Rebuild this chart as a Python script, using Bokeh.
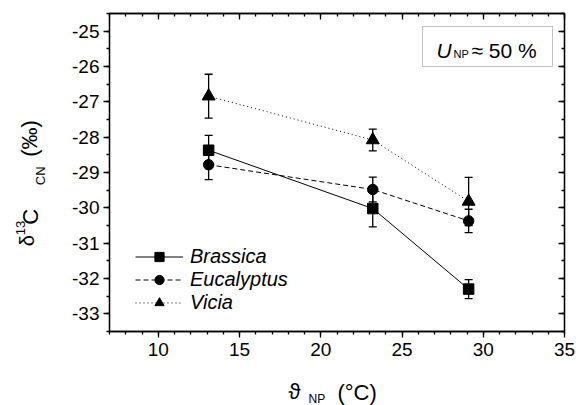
import math
from bokeh.plotting import figure
from bokeh.layouts import column, row
from bokeh.core.properties import value
from bokeh.models import (Range1d, LinearAxis, SingleIntervalTicker, Whisker, TeeHead,
                          ColumnDataSource, Legend, LegendItem, Label, BoxAnnotation)
from bokeh.embed import file_html
from bokeh.resources import INLINE

# ---- data ----
temps = [13.1, 23.2, 29.1]
brassica = [-28.37, -30.02, -32.30]
brassica_err = [0.42, 0.52, 0.27]
eucalyptus = [-28.78, -29.48, -30.37]
eucalyptus_err = [0.42, 0.35, 0.33]
vicia = [-26.84, -28.08, -29.82]
vicia_err = [0.62, 0.31, 0.68]
series_names = ["Brassica", "Eucalyptus", "Vicia"]
x_ticks = [10, 15, 20, 25, 30, 35]
x_tick_labels = ["10", "15", "20", "25", "30", "35"]
y_ticks = [-33, -32, -31, -30, -29, -28, -27, -26, -25]
y_tick_labels = ["-33", "-32", "-31", "-30", "-29", "-28", "-27", "-26", "-25"]

X0, X1 = 7, 35
Y0, Y1 = -33.5, -24.5
FONT = "Liberation Sans"

# page geometry (pixels)
W, H = 576, 405
LEFT_W = 52          # strip holding the y-axis title
TOP_H = 370          # height of the plot row
FL, FT, FW, FH = 109, 13, 455, 318   # frame left/top/width/height


def dx(px):
    return X0 + (px - FL) * (X1 - X0) / FW


def dy(py):
    return Y1 - (py - FT) * (Y1 - Y0) / FH


p = figure(x_range=Range1d(X0, X1), y_range=Range1d(Y0, Y1),
           frame_width=FW, frame_height=FH,
           min_border_left=FL - LEFT_W, min_border_right=W - FL - FW,
           min_border_top=FT, min_border_bottom=TOP_H - FT - FH,
           output_backend="svg", toolbar_location=None)
p.grid.visible = False
p.outline_line_color = "black"
p.outline_line_width = 1.3
p.background_fill_color = "white"
p.border_fill_color = "white"

xt = SingleIntervalTicker(interval=5, num_minor_ticks=5)
yt = SingleIntervalTicker(interval=1, num_minor_ticks=2)
p.xaxis[0].ticker = xt
p.yaxis[0].ticker = yt
p.xaxis[0].major_label_overrides = dict(zip(x_ticks, x_tick_labels))
p.yaxis[0].major_label_overrides = dict(zip(y_ticks, y_tick_labels))

for ax in (p.xaxis[0], p.yaxis[0]):
    ax.major_tick_out = 6
    ax.major_tick_in = 0
    ax.minor_tick_out = 3
    ax.minor_tick_in = 0
    ax.axis_line_width = 1.3
    ax.major_tick_line_width = 1.3
    ax.minor_tick_line_width = 1.3
    ax.major_label_text_font = FONT
    ax.major_label_text_font_size = "19px"
    ax.major_label_text_color = "black"
p.xaxis[0].major_label_standoff = 5
p.yaxis[0].major_label_standoff = 4

for t, loc in ((xt, "above"), (yt, "right")):
    ax = LinearAxis(ticker=t, major_tick_in=6, major_tick_out=0, minor_tick_in=3,
                    minor_tick_out=0, major_label_text_font_size="1px",
                    major_label_text_color=None,
                    major_label_standoff=0, axis_line_width=1.3,
                    major_tick_line_width=1.3, minor_tick_line_width=1.3)
    p.add_layout(ax, loc)

series = [
    (brassica, brassica_err, "square", 10.5, "solid"),
    (eucalyptus, eucalyptus_err, "circle", 10.5, "5 3"),
    (vicia, vicia_err, "triangle", 13, "1 3"),
]

items = []
for name, (vals, errs, marker, size, dash) in zip(series_names, series):
    src = ColumnDataSource(dict(x=temps, y=vals,
                                upper=[v + e for v, e in zip(vals, errs)],
                                lower=[v - e for v, e in zip(vals, errs)]))
    rl = p.line("x", "y", source=src, line_color="black", line_width=1, line_dash=dash)
    w = Whisker(source=src, base="x", upper="upper", lower="lower", dimension="height",
                line_color="black", line_width=1.3,
                upper_head=TeeHead(size=8, line_color="black", line_width=1.3),
                lower_head=TeeHead(size=8, line_color="black", line_width=1.3))
    p.add_layout(w)
    rm = p.scatter("x", "y", source=src, marker=marker, size=size,
                   fill_color="black", line_color="black")
    items.append(LegendItem(label=name, renderers=[rl, rm]))

legend = Legend(items=items, location=(26, 17), glyph_width=48, glyph_height=23,
                label_height=23, spacing=0, padding=0, margin=0, label_standoff=7,
                border_line_color=None, background_fill_alpha=0,
                label_text_font=FONT, label_text_font_size="20px",
                label_text_font_style="italic", label_text_color="black")
p.add_layout(legend, "center")

# annotation box
p.add_layout(BoxAnnotation(left=dx(422), right=dx(552), top=dy(26), bottom=dy(66),
                           fill_color=None, line_color="#333333", line_width=1))


def lab(fig, text, x, y, size, angle=0.0, style="normal", align="left", base="alphabetic"):
    fig.add_layout(Label(x=x, y=y, text=text, angle=angle,
                         text_font=FONT, text_font_size=size, text_font_style=style,
                         text_color="black", text_align=align,
                         text_baseline=base))


lab(p, "U", dx(436), dy(50), "21px", style="italic")
lab(p, "NP", dx(453), dy(53), "11px")
lab(p, "\u2248 50 %", dx(471), dy(50), "21px")


def strip(width, height):
    f = figure(width=width, height=height, x_range=Range1d(0, width),
               y_range=Range1d(0, height), min_border=0,
               x_axis_location=None, y_axis_location=None,
               output_backend="svg", toolbar_location=None)
    f.grid.visible = False
    f.outline_line_color = None
    f.background_fill_color = "white"
    f.border_fill_color = "white"
    return f


# y axis title strip; observed vertical placement in this strip follows
# page_y ~ OFF + K * requested_y, so the wanted page positions are mapped back
K, OFF = 0.69, 46.7


def ystrip(page_y):
    return TOP_H - (page_y - OFF) / K


ly = strip(LEFT_W, TOP_H)
R = math.pi / 2
pieces = [("\u03b4", 26, 229, "20px"),
          ("C", 29.5, 210, "22px"),
          ("(\u2030)", 29, 147, "22px"),
          ("13", 20, 219, "13px"),
          ("CN", 39.5, 177, "13px")]
for txt, cx, cy, fs in pieces:
    ly.text(x=[cx], y=[ystrip(cy)], text=[txt], angle=R,
            text_font=value(FONT), text_font_size=value(fs), text_color="black",
            text_align="center", text_baseline="middle")

# x axis title strip (local y measured up from the page bottom)
lx = strip(W, H - TOP_H)
lab(lx, "\u03d1", 288, H - 391, "22px")
lab(lx, "NP", 308, H - 398, "12px")
lab(lx, "(\u00b0C)", 337, H - 392, "22px")

layout = column(row(ly, p, spacing=0), lx, spacing=0)
open("out.html", "w").write(file_html(layout, INLINE))
